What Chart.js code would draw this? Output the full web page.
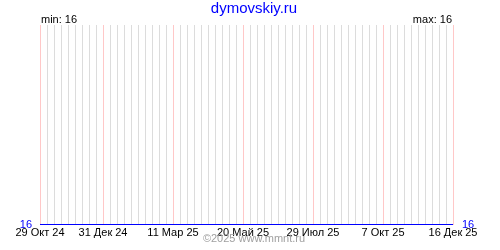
<!DOCTYPE html>
<html>
<head>
<meta charset="utf-8">
<script src="https://cdn.jsdelivr.net/npm/chart.js@4/dist/chart.umd.min.js"></script>
<style>
  html, body { margin: 0; padding: 0; background: #fff; }
  #wrap { width: 500px; height: 250px; }
</style>
</head>
<body>
<div id="wrap"><canvas id="chart" width="500" height="250"></canvas></div>
<script>
// weeks since 29 Oct 24, and labelled weeks
const weeks = [0,1,2,3,4,5,6,7,8,9,10,11,12,13,14,15,16,17,18,19,20,21,22,23,24,25,26,27,28,29,
  30,31,32,33,34,35,36,37,38,39,40,41,42,43,44,45,46,47,48,49,50,51,52,53,54,55,56,57,58,59];
const values = [16,16,16,16,16,16,16,16,16,16,16,16,16,16,16,16,16,16,16,16,16,16,16,16,16,16,16,16,16,16,
  16,16,16,16,16,16,16,16,16,16,16,16,16,16,16,16,16,16,16,16,16,16,16,16,16,16,16,16,16,16];
const labelWeeks = [0, 9, 19, 29, 39, 49, 59];
const tickLabels = ['29 Окт 24', '31 Дек 24', '11 Мар 25', '20 Май 25', '29 Июл 25', '7 Окт 25', '16 Дек 25'];
const minValue = 16;
const maxValue = 16;

const font = "'Liberation Sans', Arial, sans-serif";

const textPlugin = {
    id: 'texts',
    afterDraw(chart) {
        const ctx = chart.ctx;
        const area = chart.chartArea;
        ctx.save();
        ctx.fillStyle = '#0000ff';
        ctx.font = '15px ' + font;
        ctx.textAlign = 'center';
        ctx.textBaseline = 'alphabetic';
        ctx.fillText('dymovskiy.ru', 254, 13);

        ctx.fillStyle = '#000';
        ctx.font = '11px ' + font;
        ctx.textAlign = 'left';
        ctx.fillText('min: ' + minValue, area.left + 1, 23);
        ctx.textAlign = 'right';
        ctx.fillText('max: ' + maxValue, area.right - 1, 23);

        ctx.fillStyle = '#a0a0a0';
        ctx.textAlign = 'center';
        ctx.fillText('©2025 www.mmnt.ru', 254, 242);
        ctx.restore();
    }
};

const ctx = document.getElementById('chart').getContext('2d');
new Chart(ctx, {
    type: 'line',
    data: {
        datasets: [{
            data: weeks.map((w, i) => ({ x: w, y: values[i] })),
            borderColor: '#0000ff',
            borderWidth: 2,
            pointRadius: 0,
            yAxisID: 'y',
        }],
    },
    options: {
        responsive: false,
        animation: false,
        layout: { padding: { top: 25 } },
        plugins: { legend: { display: false }, tooltip: { enabled: false } },
        scales: {
            x: {
                type: 'linear',
                min: weeks[0],
                max: weeks[weeks.length - 1],
                afterBuildTicks: (axis) => { axis.ticks = weeks.map(w => ({ value: w })); },
                afterFit: (axis) => { axis.height = 25; },
                grid: {
                    color: (c) => labelWeeks.includes(c.tick && c.tick.value) ? '#ffc8c8' : '#dcdcdc',
                    drawTicks: false,
                    lineWidth: 1,
                },
                border: { display: false },
                ticks: {
                    autoSkip: false,
                    maxRotation: 0,
                    padding: 1,
                    color: '#000',
                    font: { family: font, size: 11 },
                    callback: (v) => {
                        const k = labelWeeks.indexOf(v);
                        return k >= 0 ? tickLabels[k] : '';
                    },
                },
            },
            y: {
                position: 'left',
                min: minValue,
                max: maxValue + 1,
                afterBuildTicks: (axis) => { axis.ticks = [{ value: minValue }]; },
                afterFit: (axis) => { axis.width = 40; },
                grid: { display: false, drawTicks: false },
                border: { display: false },
                ticks: { color: '#0000ff', padding: 8, font: { family: font, size: 11 } },
            },
            y2: {
                position: 'right',
                min: minValue,
                max: maxValue + 1,
                afterBuildTicks: (axis) => { axis.ticks = [{ value: minValue }]; },
                afterFit: (axis) => { axis.width = 47; },
                grid: { display: false, drawTicks: false },
                border: { display: false },
                ticks: { color: '#0000ff', padding: 9, font: { family: font, size: 11 } },
            },
        },
    },
    plugins: [textPlugin],
});
</script>
</body>
</html>
